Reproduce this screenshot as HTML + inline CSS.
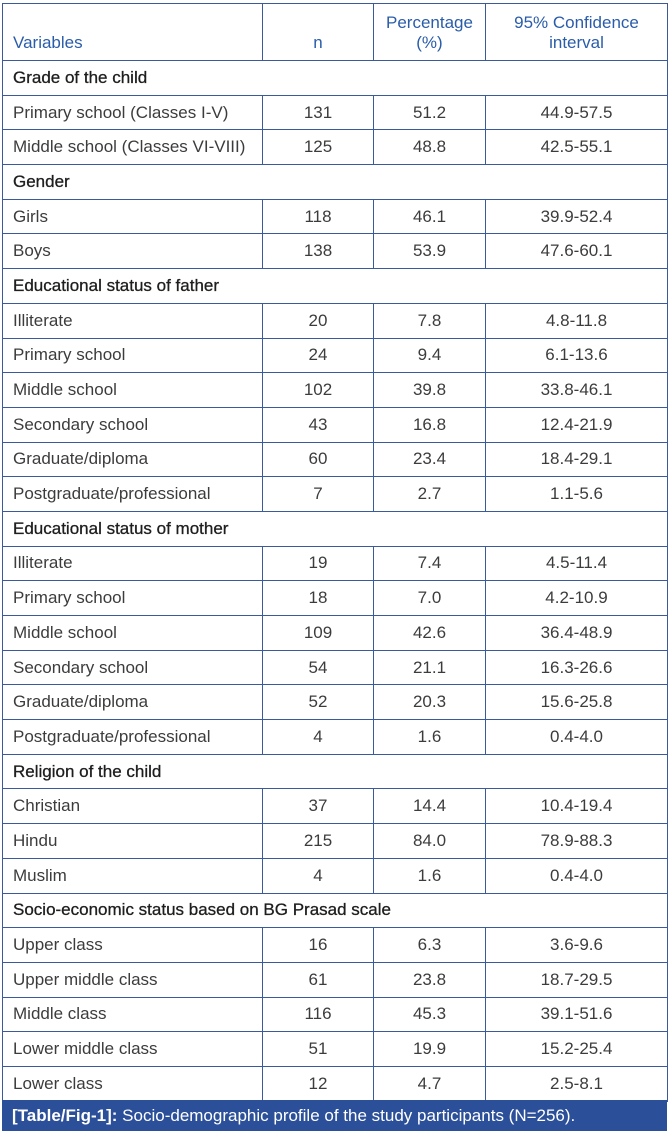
<!DOCTYPE html>
<html><head><meta charset="utf-8"><style>
html,body{margin:0;padding:0;background:#fff;width:670px;height:1136px;overflow:hidden}
body{font-family:"Liberation Sans",sans-serif}
table{position:absolute;left:2px;top:3px;width:665px;border-collapse:collapse;table-layout:fixed}
td{border:1px solid #3b5a9a;padding:0 0 0 10px;font-size:17px;color:#3c3c3c;height:34.7px;box-sizing:border-box;white-space:nowrap}
td.c{text-align:center;padding:0}
tr.h td{height:57px;color:#2a5caa;vertical-align:bottom;padding-bottom:7px;line-height:20px}
tr.s td{color:#1e1e1e;-webkit-text-stroke:0.3px #1e1e1e}
.cap{position:absolute;left:2px;top:1100px;width:665px;height:31px;background:#2b4f98;color:#fff;font-size:17px;line-height:31px;padding-left:10px;box-sizing:border-box;white-space:nowrap}
</style></head><body>
<table>
<colgroup><col style="width:260px"><col style="width:111px"><col style="width:112px"><col style="width:182px"></colgroup>
<tr class="h"><td>Variables</td><td class="c">n</td><td class="c">Percentage<br>(%)</td><td class="c">95% Confidence<br>interval</td></tr>
<tr class="s"><td colspan="4">Grade of the child</td></tr>
<tr><td>Primary school (Classes I-V)</td><td class="c">131</td><td class="c">51.2</td><td class="c">44.9-57.5</td></tr>
<tr><td>Middle school (Classes VI-VIII)</td><td class="c">125</td><td class="c">48.8</td><td class="c">42.5-55.1</td></tr>
<tr class="s"><td colspan="4">Gender</td></tr>
<tr><td>Girls</td><td class="c">118</td><td class="c">46.1</td><td class="c">39.9-52.4</td></tr>
<tr><td>Boys</td><td class="c">138</td><td class="c">53.9</td><td class="c">47.6-60.1</td></tr>
<tr class="s"><td colspan="4">Educational status of father</td></tr>
<tr><td>Illiterate</td><td class="c">20</td><td class="c">7.8</td><td class="c">4.8-11.8</td></tr>
<tr><td>Primary school</td><td class="c">24</td><td class="c">9.4</td><td class="c">6.1-13.6</td></tr>
<tr><td>Middle school</td><td class="c">102</td><td class="c">39.8</td><td class="c">33.8-46.1</td></tr>
<tr><td>Secondary school</td><td class="c">43</td><td class="c">16.8</td><td class="c">12.4-21.9</td></tr>
<tr><td>Graduate/diploma</td><td class="c">60</td><td class="c">23.4</td><td class="c">18.4-29.1</td></tr>
<tr><td>Postgraduate/professional</td><td class="c">7</td><td class="c">2.7</td><td class="c">1.1-5.6</td></tr>
<tr class="s"><td colspan="4">Educational status of mother</td></tr>
<tr><td>Illiterate</td><td class="c">19</td><td class="c">7.4</td><td class="c">4.5-11.4</td></tr>
<tr><td>Primary school</td><td class="c">18</td><td class="c">7.0</td><td class="c">4.2-10.9</td></tr>
<tr><td>Middle school</td><td class="c">109</td><td class="c">42.6</td><td class="c">36.4-48.9</td></tr>
<tr><td>Secondary school</td><td class="c">54</td><td class="c">21.1</td><td class="c">16.3-26.6</td></tr>
<tr><td>Graduate/diploma</td><td class="c">52</td><td class="c">20.3</td><td class="c">15.6-25.8</td></tr>
<tr><td>Postgraduate/professional</td><td class="c">4</td><td class="c">1.6</td><td class="c">0.4-4.0</td></tr>
<tr class="s"><td colspan="4">Religion of the child</td></tr>
<tr><td>Christian</td><td class="c">37</td><td class="c">14.4</td><td class="c">10.4-19.4</td></tr>
<tr><td>Hindu</td><td class="c">215</td><td class="c">84.0</td><td class="c">78.9-88.3</td></tr>
<tr><td>Muslim</td><td class="c">4</td><td class="c">1.6</td><td class="c">0.4-4.0</td></tr>
<tr class="s"><td colspan="4">Socio-economic status based on BG Prasad scale</td></tr>
<tr><td>Upper class</td><td class="c">16</td><td class="c">6.3</td><td class="c">3.6-9.6</td></tr>
<tr><td>Upper middle class</td><td class="c">61</td><td class="c">23.8</td><td class="c">18.7-29.5</td></tr>
<tr><td>Middle class</td><td class="c">116</td><td class="c">45.3</td><td class="c">39.1-51.6</td></tr>
<tr><td>Lower middle class</td><td class="c">51</td><td class="c">19.9</td><td class="c">15.2-25.4</td></tr>
<tr><td>Lower class</td><td class="c">12</td><td class="c">4.7</td><td class="c">2.5-8.1</td></tr>
</table>
<div class="cap"><b>[Table/Fig-1]:</b> Socio-demographic profile of the study participants (N=256).</div>
</body></html>
